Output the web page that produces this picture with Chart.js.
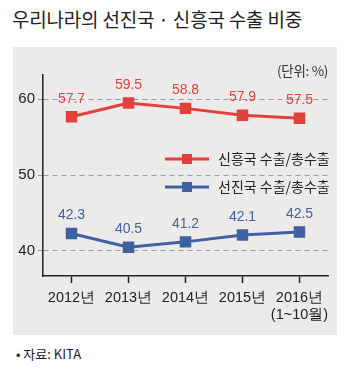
<!DOCTYPE html>
<html><head><meta charset="utf-8">
<script src="https://cdn.jsdelivr.net/npm/chart.js@4"></script>
<style>
html,body{margin:0;padding:0;background:#fff;width:350px;height:377px;overflow:hidden;}
#title{position:absolute;left:12px;top:5px;font-family:"Noto Sans CJK KR";font-size:19px;font-weight:400;color:#222;white-space:nowrap;letter-spacing:-0.2px;}
#panel{position:absolute;left:13px;top:47px;width:324px;height:288px;background:#edebe9;}
#unit{position:absolute;left:277px;top:60px;font-family:"Noto Sans CJK KR";font-size:13.5px;color:#333;white-space:nowrap;letter-spacing:-0.3px;}
#src{position:absolute;left:16px;top:344px;font-family:"Noto Sans CJK KR";font-size:13px;color:#222;white-space:nowrap;}
#wrap{position:absolute;left:13px;top:47px;width:324px;height:288px;}
</style></head>
<body>
<div id="title">우리나라의 선진국 · 신흥국 수출 비중</div>
<div id="panel"></div>
<div id="wrap"><canvas id="c" width="324" height="288"></canvas></div>
<div id="unit">(단위: %)</div>
<div id="src">• 자료: KITA</div>
<script>
const categories = [["2012년"],["2013년"],["2014년"],["2015년"],["2016년","(1~10월)"]];
const emergingValues = [57.7, 59.5, 58.8, 57.9, 57.5];
const advancedValues = [42.3, 40.5, 41.2, 42.1, 42.5];
const seriesNames = ["신흥국 수출/총수출", "선진국 수출/총수출"];
const yTicks = [40, 50, 60];

const RED = "#e2413b", BLUE = "#3d61a3";

const labelPlugin = {
  id: "labels",
  afterDatasetsDraw(chart) {
    const ctx = chart.ctx;
    ctx.save();
    ctx.font = '14px "Liberation Sans"';
    ctx.textAlign = "center";
    ctx.textBaseline = "middle";
    chart.data.datasets.forEach((ds, i) => {
      const meta = chart.getDatasetMeta(i);
      ctx.fillStyle = ds.borderColor;
      meta.data.forEach((pt, j) => {
        ctx.fillText(ds.data[j].toFixed(1), pt.x, pt.y - 18);
      });
    });
    const items = [{c: RED, t: seriesNames[0], y: 112}, {c: BLUE, t: seriesNames[1], y: 140}];
    items.forEach(it => {
      ctx.strokeStyle = it.c; ctx.lineWidth = 3;
      ctx.beginPath(); ctx.moveTo(152, it.y); ctx.lineTo(196, it.y); ctx.stroke();
      ctx.fillStyle = it.c; ctx.fillRect(174 - 5, it.y - 5, 10, 10);
      ctx.fillStyle = "#222";
      ctx.font = '14px "Noto Sans CJK KR"';
      ctx.textAlign = "left";
      ctx.fillText(it.t, 205, it.y);
    });
    ctx.restore();
  }
};

new Chart(document.getElementById("c"), {
  type: "line",
  data: {
    labels: categories,
    datasets: [
      {label: seriesNames[0], data: emergingValues, borderColor: RED, backgroundColor: RED, borderWidth: 3, pointStyle: "rect", pointRadius: 6, pointHoverRadius: 6, tension: 0},
      {label: seriesNames[1], data: advancedValues, borderColor: BLUE, backgroundColor: BLUE, borderWidth: 3, pointStyle: "rect", pointRadius: 6, pointHoverRadius: 6, tension: 0}
    ]
  },
  options: {
    responsive: false,
    animation: false,
    devicePixelRatio: 1,
    layout: {padding: {left: 0, right: 4, top: 28, bottom: 0}},
    plugins: {legend: {display: false}, tooltip: {enabled: false}},
    scales: {
      x: {
        offset: true,
        afterFit(s) { s.height = 59; },
        border: {display: true, color: "#222", width: 1.5},
        grid: {display: true, drawOnChartArea: false, drawTicks: true, tickLength: 7, tickColor: "#222", tickWidth: 1.5, offset: false},
        ticks: {color: "#222", font: {family: "Liberation Sans", size: 14.5}, padding: 6, maxRotation: 0, autoSkip: false}
      },
      y: {
        min: 36.7, max: 63.2,
        afterFit(s) { s.width = 30; },
        afterBuildTicks(s) { s.ticks = yTicks.map(v => ({value: v})); },
        border: {display: true, color: "#222", width: 1.5, dash: [5, 4]},
        grid: {color: "#9a9a9a", lineWidth: 1, tickLength: 5, tickColor: "#9a9a9a", tickBorderDash: [5, 4], drawTicks: true},
        ticks: {color: "#222", font: {family: "Liberation Sans", size: 15}, padding: 3}
      }
    }
  },
  plugins: [labelPlugin]
});
</script>
</body></html>
